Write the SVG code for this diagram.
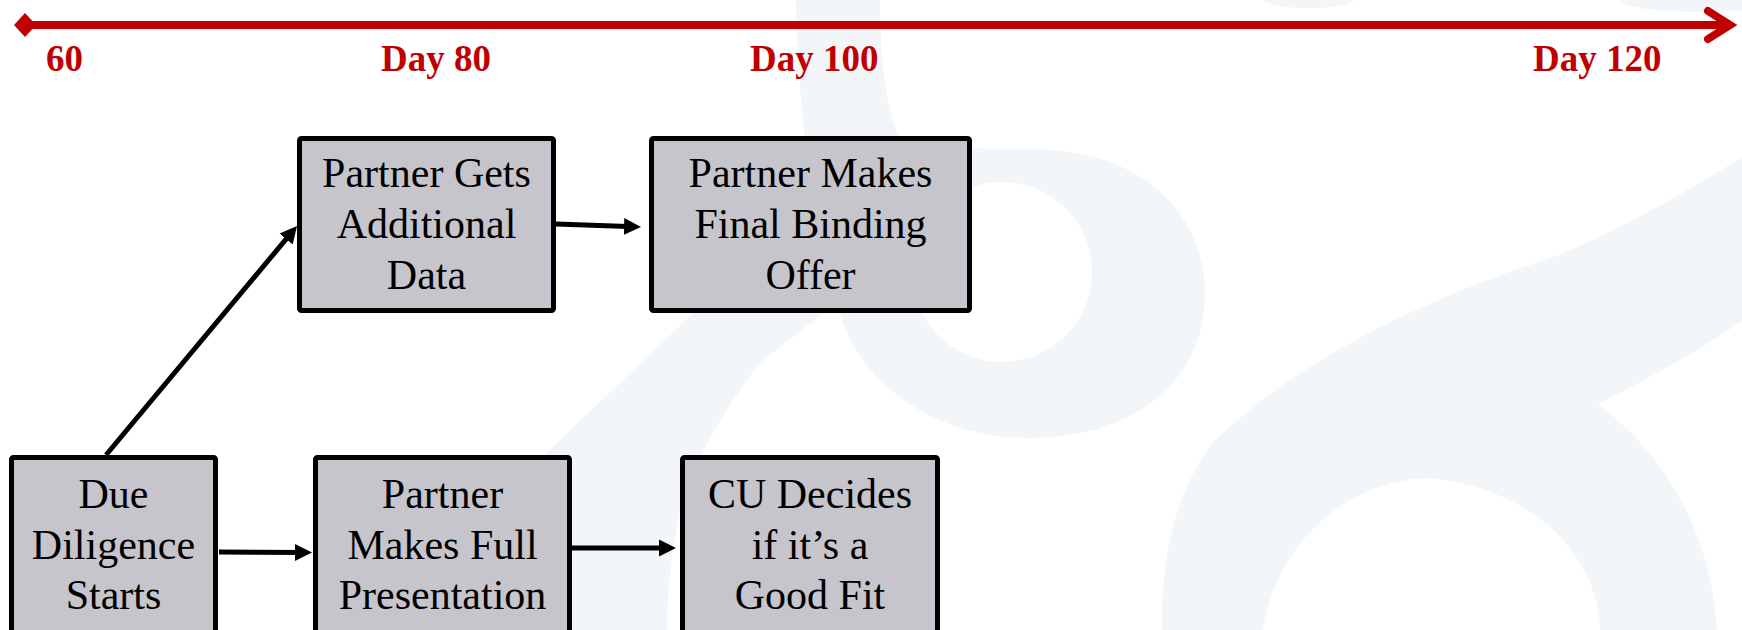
<svg xmlns="http://www.w3.org/2000/svg" width="1742" height="630" viewBox="0 0 1742 630">
  <style>
    .wm { fill: #f2f6f9; stroke: none; }
    .box { fill: #c6c5cc; stroke: #000; stroke-width: 5; }
    .lbl { font-family: "Liberation Serif", "Times New Roman", serif; font-size: 42px; fill: #000; text-anchor: middle; }
    .day { font-family: "Liberation Serif", "Times New Roman", serif; font-size: 37px; font-weight: bold; fill: #c00000; }
    .conn { stroke: #000; stroke-width: 5; fill: none; marker-end: url(#ah); }
  </style>
  <defs>
    <marker id="ah" markerUnits="userSpaceOnUse" markerWidth="18" markerHeight="18" refX="11" refY="9" orient="auto">
      <path d="M0,0.5 L17,9 L0,17.5 Z" fill="#000"/>
    </marker>
  </defs>
  <rect x="0" y="0" width="1742" height="630" fill="#ffffff"/>

  <g id="watermark">
    <path class="wm" fill-rule="evenodd" d="M796,0 L880,0 C880,70 888,120 905,150 C940,148 1000,148 1050,150 C1140,155 1205,210 1205,295 C1205,380 1135,438 1030,438 C930,438 862,380 842,320 C818,250 798,130 796,0 Z M1092,272 A90,90 0 1 0 912,272 A90,90 0 1 0 1092,272 Z"/>
    <path class="wm" d="M360,630 L560,440 C610,392 660,345 693,313 L790,230 L840,300 C790,340 760,360 747,380 C715,425 690,470 680,513 C672,550 667,590 667,630 Z"/>
    <path class="wm" d="M1162,630 C1160,560 1175,490 1215,440 C1300,360 1420,300 1554,257 C1620,230 1690,190 1742,157 L1742,321 C1700,350 1650,378 1598,404 C1660,450 1712,530 1717,630 L1600,630 C1598,560 1540,490 1430,478 C1340,480 1275,550 1263,630 Z"/>
    <ellipse class="wm" cx="1309" cy="0" rx="45" ry="8"/>
    <ellipse class="wm" cx="1700" cy="0" rx="80" ry="12"/>
  </g>

  <g id="timeline">
    <line x1="25" y1="25" x2="1730" y2="25" stroke="#c00000" stroke-width="8"/>
    <path d="M14,25 L25,13 L36,25 L25,37 Z" fill="#c00000"/>
    <path d="M1708,11 L1730,25 L1708,39" fill="none" stroke="#c00000" stroke-width="8" stroke-linecap="round" stroke-linejoin="miter"/>
    <text class="day" x="46" y="71">60</text>
    <text class="day" x="381" y="71">Day 80</text>
    <text class="day" x="750" y="71">Day 100</text>
    <text class="day" x="1533" y="71">Day 120</text>
  </g>

  <g id="connectors">
    <line class="conn" x1="106" y1="455" x2="293.2" y2="230.6"/>
    <line class="conn" x1="556" y1="224" x2="635" y2="226.8"/>
    <line class="conn" x1="219" y1="552" x2="306" y2="552.5"/>
    <line class="conn" x1="571" y1="548" x2="670" y2="548"/>
  </g>

  <g id="node-due-diligence">
    <rect class="box" x="11.5" y="457.5" width="204" height="200" rx="2"/>
    <text class="lbl" x="113.5" y="508">Due</text>
    <text class="lbl" x="113.5" y="558.5">Diligence</text>
    <text class="lbl" x="113.5" y="609">Starts</text>
  </g>

  <g id="node-partner-gets-data">
    <rect class="box" x="299.5" y="138.5" width="254" height="172" rx="2"/>
    <text class="lbl" x="426.5" y="187">Partner Gets</text>
    <text class="lbl" x="426.5" y="237.5">Additional</text>
    <text class="lbl" x="426.5" y="288.5">Data</text>
  </g>

  <g id="node-final-offer">
    <rect class="box" x="651.5" y="138.5" width="318" height="172" rx="2"/>
    <text class="lbl" x="810.5" y="187">Partner Makes</text>
    <text class="lbl" x="810.5" y="237.5">Final Binding</text>
    <text class="lbl" x="810.5" y="288.5">Offer</text>
  </g>

  <g id="node-full-presentation">
    <rect class="box" x="315.5" y="457.5" width="254" height="200" rx="2"/>
    <text class="lbl" x="442.5" y="508">Partner</text>
    <text class="lbl" x="442.5" y="558.5">Makes Full</text>
    <text class="lbl" x="442.5" y="609">Presentation</text>
  </g>

  <g id="node-cu-decides">
    <rect class="box" x="682.5" y="457.5" width="255" height="200" rx="2"/>
    <text class="lbl" x="810" y="508">CU Decides</text>
    <text class="lbl" x="810" y="558.5">if it’s a</text>
    <text class="lbl" x="810" y="609">Good Fit</text>
  </g>
</svg>
